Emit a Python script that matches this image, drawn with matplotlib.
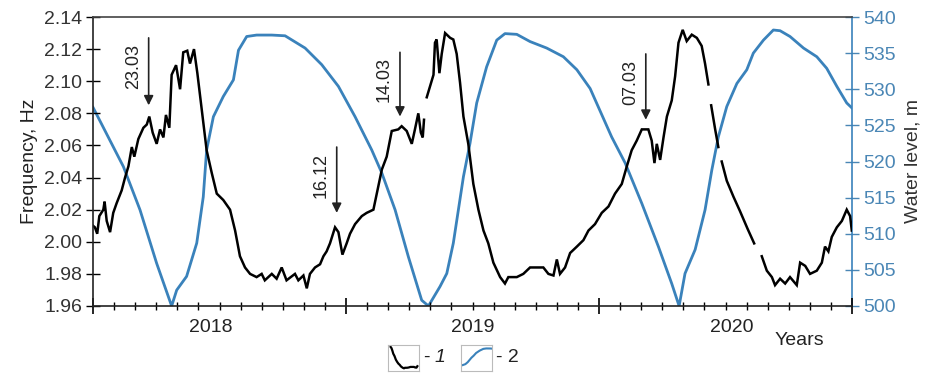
import numpy as np
import matplotlib
matplotlib.use("Agg")
import matplotlib.pyplot as plt
from matplotlib.ticker import MultipleLocator, FixedLocator, NullFormatter

plt.rcParams['font.family'] = ['Liberation Sans Narrow', 'Liberation Sans', 'DejaVu Sans']

# ---- data (x in months since 1 Jan 2018) ----
years = ["2018", "2019", "2020"]
year_label_pos = [5.6, 18.0, 30.3]

water_m = [0, 1.44, 2.23, 3.02, 3.73, 3.97, 4.44, 4.92, 5.23, 5.39, 5.71, 6.18, 6.66, 6.9,
           7.29, 7.76, 8.48, 9.11, 10.06, 10.85, 11.64, 12.43, 13.22, 13.7, 14.33, 14.96,
           15.59, 15.91, 16.46, 16.78, 17.09, 17.57, 17.88, 18.2, 18.67, 19.15, 19.54, 20.1,
           20.73, 21.52, 22.31, 22.95, 23.58, 24.6, 25.24, 26.03, 26.82, 27.45, 27.8, 28.08,
           28.56, 29.03, 29.35, 29.66, 30.06, 30.54, 31.01, 31.32, 31.8, 32.27, 32.59, 33.06,
           33.7, 34.33, 34.8, 35.28, 35.75, 36.0]
water_level = [527.5, 519.3, 513.3, 505.9, 500.0, 502.2, 504.1, 508.7, 515.1, 521.6, 526.2,
               529.0, 531.3, 535.4, 537.3, 537.5, 537.5, 537.4, 535.7, 533.4, 530.4, 526.2,
               521.6, 518.4, 513.3, 506.8, 500.8, 500.0, 502.7, 504.5, 508.7, 517.9, 522.5,
               528.1, 533.1, 536.8, 537.7, 537.6, 536.6, 535.7, 534.5, 532.7, 530.1, 523.4,
               519.8, 514.2, 508.2, 503.1, 500.0, 504.5, 507.8, 513.3, 518.8, 523.4, 527.6,
               530.8, 532.7, 535.0, 536.8, 538.2, 538.1, 537.3, 535.7, 534.5, 532.9, 530.4,
               528.1, 527.4]

nan = float('nan')
freq_m = [0.0, 0.09, 0.2, 0.3, 0.49, 0.55, 0.65, 0.81, 0.96, 1.12, 1.36, 1.52, 1.68, 1.84,
          1.96, 2.15, 2.39, 2.55, 2.67, 2.83, 3.02, 3.18, 3.34, 3.46, 3.62, 3.73, 3.94, 4.13,
          4.28, 4.47, 4.6, 4.79, 4.95, 5.16, 5.39, 5.63, 5.87, 6.18, 6.5, 6.74, 6.97, 7.21,
          7.45, 7.76, 8.0, 8.15, 8.48, 8.71, 8.95, 9.18, 9.58, 9.74, 9.98, 10.14, 10.29,
          10.53, 10.77, 10.93, 11.08, 11.24, 11.48, 11.64, 11.83, 12.03, 12.19, 12.43, 12.75,
          12.98, 13.3, 13.46, 13.7, 13.93, 14.17, 14.48, 14.64, 14.88, 15.12, 15.27, 15.43,
          15.55, 15.64, 15.7, 15.76, 15.83, 15.99, 16.15, 16.22, 16.3, 16.43, 16.54, 16.7,
          16.94, 17.09, 17.25, 17.41, 17.57, 17.8, 18.04, 18.28, 18.52, 18.75, 18.99, 19.31,
          19.54, 19.7, 20.1, 20.41, 20.73, 21.05, 21.36, 21.6, 21.84, 22.0, 22.15, 22.39,
          22.63, 22.95, 23.26, 23.5, 23.81, 24.13, 24.45, 24.76, 25.08, 25.32, 25.55, 25.79,
          26.03, 26.34, 26.5, 26.63, 26.74, 26.9, 27.06, 27.22, 27.45, 27.61, 27.77, 27.97,
          28.16, 28.4, 28.64, 28.87, 29.03, 29.19, 29.25, 29.32, 29.51, 29.66, 29.74, 29.82,
          30.06, 30.38, 30.69, 31.05, 31.36, 31.5, 31.72, 31.96, 32.2, 32.35, 32.59, 32.83,
          33.06, 33.38, 33.54, 33.78, 34.01, 34.33, 34.57, 34.72, 34.88, 35.04, 35.28, 35.52,
          35.75, 35.91, 35.99]
frequency = [2.010, 2.009, 2.005, 2.016, 2.020, 2.025, 2.013, 2.006, 2.018, 2.024, 2.032,
             2.040, 2.047, 2.059, 2.053, 2.064, 2.071, 2.073, 2.078, 2.068, 2.061, 2.070,
             2.065, 2.079, 2.071, 2.104, 2.110, 2.095, 2.118, 2.119, 2.111, 2.120, 2.105,
             2.082, 2.057, 2.043, 2.030, 2.026, 2.020, 2.007, 1.991, 1.984, 1.980, 1.978,
             1.980, 1.976, 1.980, 1.977, 1.984, 1.976, 1.980, 1.976, 1.979, 1.971, 1.980,
             1.984, 1.986, 1.991, 1.994, 1.999, 2.009, 2.006, 1.992, 1.999, 2.005, 2.011,
             2.016, 2.018, 2.020, 2.030, 2.045, 2.053, 2.069, 2.070, 2.072, 2.069, 2.061,
             2.070, 2.080, 2.068, 2.065, 2.076, nan, 2.090, 2.097, 2.104, 2.124, 2.126,
             2.105, 2.117, 2.130, 2.127, 2.126, 2.117, 2.099, 2.078, 2.061, 2.036, 2.020,
             2.007, 1.999, 1.987, 1.978, 1.974, 1.978, 1.978, 1.980, 1.984, 1.984, 1.984,
             1.980, 1.979, 1.989, 1.980, 1.984, 1.993, 1.997, 2.001, 2.007, 2.011, 2.018,
             2.022, 2.030, 2.036, 2.047, 2.057, 2.063, 2.070, 2.070, 2.063, 2.049, 2.061,
             2.051, 2.065, 2.078, 2.088, 2.103, 2.124, 2.132, 2.125, 2.129, 2.127, 2.122,
             2.111, 2.098, nan, 2.085, 2.070, 2.059, nan, 2.050, 2.038, 2.028, 2.019, 2.008,
             1.999, nan, 1.991, 1.982, 1.978, 1.973, 1.977, 1.974, 1.978, 1.973, 1.987,
             1.985, 1.980, 1.982, 1.987, 1.997, 1.994, 2.003, 2.009, 2.013, 2.020, 2.016,
             2.007]

annot_labels = ["23.03", "16.12", "14.03", "07.03"]
annot_m = [2.64, 11.56, 14.56, 26.22]
annot_top = [2.127, 2.059, 2.118, 2.117]
annot_tip = [2.085, 2.018, 2.078, 2.076]

BLUE = '#3a82bb'
BLUE_TXT = '#4a86b5'

fig = plt.figure(figsize=(9.3, 3.75), dpi=100)
ax = fig.add_axes([93/930, 1-306/375, 759/930, 289/375])
ax2 = ax.twinx()

ax2.plot(water_m, water_level, color=BLUE, lw=2.0, solid_joinstyle='round')
ax.plot(freq_m, frequency, color='black', lw=1.8, solid_joinstyle='miter')
ax.set_zorder(ax2.get_zorder() + 1)
ax.patch.set_visible(False)

ax.set_xlim(0, 36)
ax.set_ylim(1.96, 2.14)
ax2.set_ylim(500, 540)
ax.set_yticks(np.arange(1.96, 2.141, 0.02))
ax.set_yticklabels([f"{v:.2f}" for v in np.arange(1.96, 2.141, 0.02)])
ax2.set_yticks(np.arange(500, 541, 5))

ax.xaxis.set_major_locator(FixedLocator([0, 12, 24, 36]))
ax.xaxis.set_minor_locator(MultipleLocator(1))
ax.xaxis.set_major_formatter(NullFormatter())
ax.tick_params(axis='x', which='major', direction='inout', length=12, width=1.2)
ax.tick_params(axis='x', which='minor', direction='inout', length=6, width=1.0)
ax.tick_params(axis='y', direction='inout', length=10, width=1.0, labelsize=14, pad=3,
               labelcolor='#333333')
ax2.tick_params(axis='y', direction='inout', length=10, width=1.0, labelsize=14,
                colors=BLUE_TXT, pad=3)

for s in ['left', 'bottom']:
    ax.spines[s].set_color('#222222')
    ax.spines[s].set_linewidth(1.2)
ax.spines['top'].set_color('#444444')
ax.spines['top'].set_linewidth(1.2)
ax.spines['right'].set_visible(False)
ax2.spines['right'].set_color(BLUE)
ax2.spines['right'].set_linewidth(1.2)
for s in ['left', 'bottom', 'top']:
    ax2.spines[s].set_visible(False)

ax.set_ylabel("Frequency, Hz", fontsize=14, color='#222222', labelpad=4)
ax2.set_ylabel("Water level, m", fontsize=14, color='#333333', labelpad=6)

for lab, xp in zip(years, year_label_pos):
    ax.text(xp, -0.045, lab, transform=ax.get_xaxis_transform(), ha='center', va='top',
            fontsize=14, color='#222222')
ax.text(33.5, -0.09, "Years", transform=ax.get_xaxis_transform(), ha='center', va='top',
        fontsize=14, color='#222222')

for lab, xm, yt, yb in zip(annot_labels, annot_m, annot_top, annot_tip):
    ax.annotate("", xy=(xm, yb), xytext=(xm, yt),
                arrowprops=dict(arrowstyle='-|>', color='#222222', lw=1.2,
                                mutation_scale=14, shrinkA=0, shrinkB=0))
    ax.text(xm - 0.33, (yt + yb) / 2 + 0.003, lab, rotation=90, ha='right', va='center',
            fontsize=13, color='#222222')

# legend boxes with sample pieces of the series
box_w, box_h = 31/930, 26/375
l1 = fig.add_axes([388/930, 1-371/375, box_w, box_h])
sel = [i for i, m in enumerate(freq_m) if 17.0 <= m <= 22.0]
l1.plot([freq_m[i] for i in sel], [frequency[i] for i in sel], color='black', lw=1.6)
l1.set_xlim(16.6, 22.3)
l1.set_ylim(1.955, 2.14)
l2 = fig.add_axes([461/930, 1-371/375, box_w, box_h])
l2.plot(water_m, water_level, color=BLUE, lw=1.5)
l2.set_xlim(16.2, 20.3)
l2.set_ylim(490, 545)
for la in (l1, l2):
    la.set_xticks([])
    la.set_yticks([])
    for s in la.spines.values():
        s.set_color('#bbbbbb')
        s.set_linewidth(0.8)
fig.text(423/930, 1-357/375, "-", ha='left', va='center', fontsize=14, color='#222222')
fig.text(434/930, 1-357/375, "1", ha='left', va='center', fontsize=14, color='#222222',
         style='italic')
fig.text(496/930, 1-357/375, "- 2", ha='left', va='center', fontsize=14, color='#222222')

fig.savefig("out.png", dpi=100)
